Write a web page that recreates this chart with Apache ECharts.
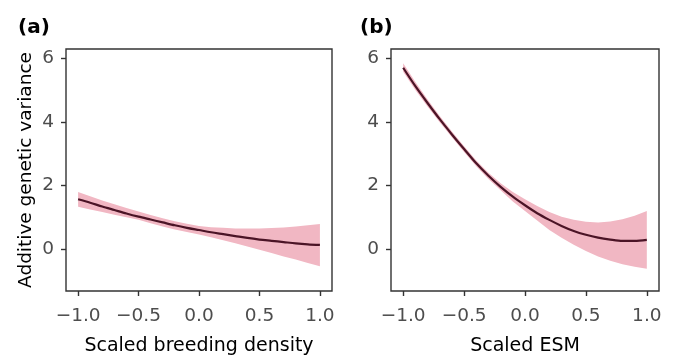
<!DOCTYPE html>
<html>
<head>
<meta charset="utf-8">
<script src="https://cdn.jsdelivr.net/npm/echarts@6/dist/echarts.min.js"></script>
<style>
  html, body { margin: 0; padding: 0; background: #fff; }
  #chart { width: 675px; height: 361px; }
</style>
</head>
<body>
<div id="chart"></div>
<script>
// Predictor values (scaled), shared by both panels
const xs = [-1.0, -0.9, -0.8, -0.7, -0.6, -0.5, -0.4, -0.3, -0.2, -0.1, 0.0,
            0.1, 0.2, 0.3, 0.4, 0.5, 0.6, 0.7, 0.8, 0.9, 1.0];

// (a) Additive genetic variance vs scaled breeding density
const densityFit   = [1.57, 1.46, 1.34, 1.23, 1.12, 1.02, 0.93, 0.84, 0.75, 0.67, 0.60,
                      0.53, 0.47, 0.41, 0.35, 0.30, 0.26, 0.22, 0.18, 0.15, 0.13];
const densityUpper = [1.80, 1.66, 1.53, 1.41, 1.29, 1.18, 1.07, 0.97, 0.88, 0.80, 0.73,
                      0.69, 0.67, 0.65, 0.65, 0.65, 0.66, 0.68, 0.71, 0.75, 0.79];
const densityLower = [1.33, 1.25, 1.17, 1.08, 1.00, 0.92, 0.81, 0.71, 0.62, 0.54, 0.46,
                      0.37, 0.28, 0.18, 0.08, -0.02, -0.12, -0.23, -0.33, -0.44, -0.54];

// (b) Additive genetic variance vs scaled ESM
const esmFit   = [5.71, 5.13, 4.60, 4.09, 3.61, 3.15, 2.70, 2.31, 1.96, 1.65, 1.38,
                  1.13, 0.92, 0.73, 0.57, 0.45, 0.36, 0.30, 0.26, 0.26, 0.29];
const esmUpper = [5.85, 5.26, 4.71, 4.19, 3.70, 3.24, 2.79, 2.40, 2.07, 1.80, 1.57,
                  1.36, 1.17, 1.02, 0.92, 0.86, 0.84, 0.87, 0.94, 1.05, 1.20];
const esmLower = [5.58, 5.01, 4.49, 3.99, 3.52, 3.06, 2.61, 2.21, 1.85, 1.50, 1.20,
                  0.90, 0.60, 0.36, 0.14, -0.06, -0.23, -0.37, -0.48, -0.56, -0.62];

// Axis ticks and labels
const xTicks = [-1.0, -0.5, 0.0, 0.5, 1.0];
const yTicks = [0, 2, 4, 6];
const panelLabels = ['(a)', '(b)'];
const xTitles = ['Scaled breeding density', 'Scaled ESM'];
const yTitle = 'Additive genetic variance';

const FONT = 'DejaVu Sans';
const LINE_COLOR = '#4b1426';
const BAND_COLOR = '#f1b7c3';
const FRAME_COLOR = '#333333';

const pairs = (ys) => xs.map((x, i) => [x, ys[i]]);
const fmtX = (v) => {
  const s = Math.abs(v).toFixed(1);
  return v < 0 ? '\u2212' + s : s;
};

function xAxis(idx) {
  return {
    type: 'value', gridIndex: idx, min: -1.1, max: 1.1,
    name: xTitles[idx], nameLocation: 'middle', nameGap: 46,
    nameTextStyle: { fontFamily: FONT, fontSize: 19, color: '#000' },
    axisLine: { show: false, onZero: false },
    axisTick: { show: true, length: 5, customValues: xTicks,
                lineStyle: { color: FRAME_COLOR, width: 1.4 } },
    axisLabel: { customValues: xTicks, margin: 16, formatter: fmtX,
                 fontFamily: FONT, fontSize: 18.5, color: '#4d4d4d' },
    splitLine: { show: false }
  };
}

function yAxis(idx) {
  return {
    type: 'value', gridIndex: idx, min: -1.32, max: 6.3,
    name: idx === 0 ? yTitle : '', nameLocation: 'middle', nameGap: 30,
    nameTextStyle: { fontFamily: FONT, fontSize: 18.5, color: '#000' },
    axisLine: { show: false, onZero: false },
    axisTick: { show: true, length: 5, customValues: yTicks,
                lineStyle: { color: FRAME_COLOR, width: 1.4 } },
    axisLabel: { customValues: yTicks, margin: 12, formatter: (v) => String(v),
                 fontFamily: FONT, fontSize: 18.5, color: '#4d4d4d' },
    splitLine: { show: false }
  };
}

// Confidence band drawn as one closed polygon: upper edge left to right,
// then lower edge right to left, all positioned through the axis scales.
function bandSeries(idx, upper, lower) {
  return {
    type: 'custom', xAxisIndex: idx, yAxisIndex: idx, silent: true, z: 2,
    data: xs.map((x, i) => [x, upper[i], lower[i]]),
    encode: { x: 0, y: [1, 2] },
    renderItem: function (params, api) {
      if (params.dataIndex !== 0) return null;
      const pts = [];
      for (let i = 0; i < xs.length; i++) pts.push(api.coord([xs[i], upper[i]]));
      for (let i = xs.length - 1; i >= 0; i--) pts.push(api.coord([xs[i], lower[i]]));
      return {
        type: 'polygon',
        shape: { points: pts },
        style: { fill: BAND_COLOR, stroke: null }
      };
    }
  };
}

function fitSeries(idx, fit) {
  return {
    type: 'line', xAxisIndex: idx, yAxisIndex: idx, data: pairs(fit),
    symbol: 'none', smooth: 0.3, silent: true, z: 5,
    lineStyle: { color: LINE_COLOR, width: 2.2 }
  };
}

const chart = echarts.init(document.getElementById('chart'), null, { renderer: 'canvas' });
chart.setOption({
  animation: false,
  backgroundColor: '#ffffff',
  title: [
    { text: panelLabels[0], left: 13, top: 13,
      textStyle: { fontFamily: FONT, fontSize: 20, fontWeight: 'bold', color: '#000' } },
    { text: panelLabels[1], left: 355, top: 13,
      textStyle: { fontFamily: FONT, fontSize: 20, fontWeight: 'bold', color: '#000' } }
  ],
  grid: [
    { left: 66, right: 343, top: 49, bottom: 65, show: true,
      borderColor: FRAME_COLOR, borderWidth: 1.4, backgroundColor: 'transparent' },
    { left: 391, right: 16, top: 49, bottom: 65, show: true,
      borderColor: FRAME_COLOR, borderWidth: 1.4, backgroundColor: 'transparent' }
  ],
  xAxis: [xAxis(0), xAxis(1)],
  yAxis: [yAxis(0), yAxis(1)],
  series: [
    bandSeries(0, densityUpper, densityLower),
    fitSeries(0, densityFit),
    bandSeries(1, esmUpper, esmLower),
    fitSeries(1, esmFit)
  ]
});
</script>
</body>
</html>
